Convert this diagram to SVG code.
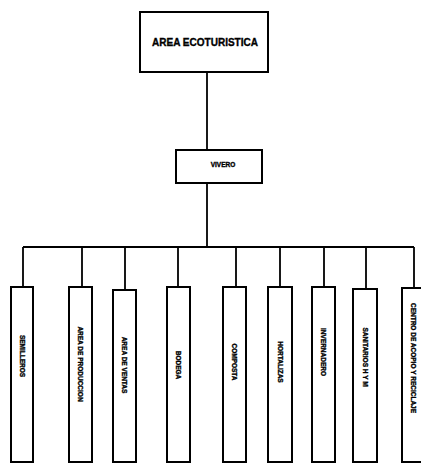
<svg xmlns="http://www.w3.org/2000/svg" width="421" height="465" viewBox="0 0 421 465">
  <style>
    .box { fill: #ffffff; stroke: #000000; stroke-width: 2; }
    .wire { fill: none; stroke: #000000; stroke-width: 1.8; }
    .t { font-family: "Liberation Sans", Arial, sans-serif; font-weight: bold; fill: #000000; stroke: #000000; stroke-width: 0.35; text-anchor: middle; }
    .v { font-size: 6.5px; }
  </style>
  <rect width="421" height="465" fill="#ffffff"/>

  <!-- connectors -->
  <g id="connectors">
    <path class="wire" d="M207,72 V150"/>
    <path class="wire" d="M207,183 V247"/>
    <path class="wire" d="M23,247 H414"/>
    <path class="wire" d="M23,247 V287 M82,247 V287 M125,247 V290 M178,247 V287 M236,247 V287 M280,247 V287 M324,247 V287 M366,247 V289 M414,247 V288"/>
  </g>

  <g id="area-ecoturistica">
    <rect class="box" x="140" y="12" width="128" height="60"/>
    <text class="t" x="205" y="46" font-size="11" textLength="106" lengthAdjust="spacingAndGlyphs">AREA ECOTURISTICA</text>
  </g>

  <g id="vivero">
    <rect class="box" x="176" y="150" width="86" height="33"/>
    <text class="t" x="223" y="167" font-size="6.5">VIVERO</text>
  </g>

  <g id="semilleros">
    <rect class="box" x="11" y="287" width="22" height="175"/>
    <text class="t v" transform="translate(22,356) rotate(90)" y="2.3">SEMILLEROS</text>
  </g>

  <g id="area-produccion">
    <rect class="box" x="69" y="287" width="23" height="175"/>
    <text class="t v" transform="translate(80.5,364) rotate(90)" y="2.3">AREA DE PRODUCCION</text>
  </g>

  <g id="area-ventas">
    <rect class="box" x="113" y="290" width="23" height="172"/>
    <text class="t v" transform="translate(124.5,365) rotate(90)" y="2.3">AREA DE VENTAS</text>
  </g>

  <g id="bodega">
    <rect class="box" x="167" y="287" width="23" height="175"/>
    <text class="t v" transform="translate(178.5,365) rotate(90)" y="2.3">BODEGA</text>
  </g>

  <g id="composta">
    <rect class="box" x="223" y="287" width="23" height="175"/>
    <text class="t v" transform="translate(234.5,362) rotate(90)" y="2.3">COMPOSTA</text>
  </g>

  <g id="hortalizas">
    <rect class="box" x="268" y="287" width="24" height="175"/>
    <text class="t v" transform="translate(280,362) rotate(90)" y="2.3">HORTALIZAS</text>
  </g>

  <g id="invernadero">
    <rect class="box" x="312" y="287" width="23" height="175"/>
    <text class="t v" transform="translate(323.5,352) rotate(90)" y="2.3">INVERNADERO</text>
  </g>

  <g id="sanitarios">
    <rect class="box" x="353" y="289" width="24" height="173"/>
    <text class="t v" transform="translate(365,357) rotate(90)" y="2.3">SANITARIOS H Y M</text>
  </g>

  <g id="centro-acopio">
    <rect class="box" x="402" y="288" width="24" height="174"/>
    <text class="t v" transform="translate(413,358) rotate(90)" y="2.3">CENTRO DE ACOPIO Y RECICLAJE</text>
  </g>
</svg>
